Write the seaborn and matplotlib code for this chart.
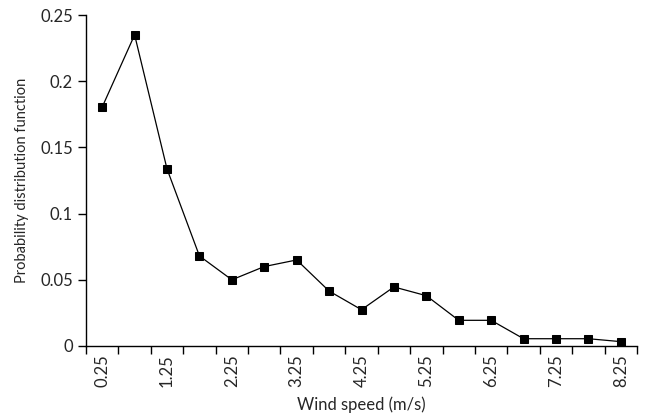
import numpy as np
import pandas as pd
import matplotlib
matplotlib.use("Agg")
import matplotlib.pyplot as plt
import seaborn as sns

wind_speed = [0.25, 0.75, 1.25, 1.75, 2.25, 2.75, 3.25, 3.75, 4.25,
              4.75, 5.25, 5.75, 6.25, 6.75, 7.25, 7.75, 8.25]
pdf_values = [0.1805, 0.235, 0.1337, 0.068, 0.050, 0.060, 0.065, 0.0415, 0.0274,
              0.0446, 0.038, 0.0194, 0.0194, 0.0055, 0.0055, 0.0055, 0.0033]
x_tick_labels = ["0.25", "1.25", "2.25", "3.25", "4.25", "5.25", "6.25", "7.25", "8.25"]
y_tick_values = [0, 0.05, 0.1, 0.15, 0.2, 0.25]
y_tick_labels = ["0", "0.05", "0.1", "0.15", "0.2", "0.25"]

df = pd.DataFrame({"speed": wind_speed, "pdf": pdf_values})

sns.set_style("ticks")
plt.rcParams['font.family'] = ['Lato', 'DejaVu Sans']

fig = plt.figure(figsize=(6.46, 4.16), dpi=100)
ax = fig.add_axes([86/646, 1 - 346/416, (637 - 86)/646, (346 - 15)/416])

sns.lineplot(data=df, x="speed", y="pdf", ax=ax, color="black", linewidth=0.9,
             marker="s", markersize=6, markeredgecolor="black", markerfacecolor="black")

ax.set_xlim(0, 8.5)
ax.set_ylim(0, 0.25)

# boundary ticks (major), labels at centers (minor)
ax.set_xticks(np.arange(0, 8.51, 0.5))
ax.set_xticklabels([])
ax.set_xticks([float(s) for s in x_tick_labels], minor=True)
ax.set_xticklabels(x_tick_labels, minor=True, rotation=90, fontsize=12)
ax.tick_params(axis="x", which="major", direction="out", length=6, width=1, color="black")
ax.tick_params(axis="x", which="minor", length=0, pad=6)

ax.set_yticks(y_tick_values)
ax.set_yticklabels(y_tick_labels, fontsize=12)
ax.tick_params(axis="y", direction="out", length=6, width=1, color="black")

for s in ["top", "right"]:
    ax.spines[s].set_visible(False)
for s in ["left", "bottom"]:
    ax.spines[s].set_color("black")
    ax.spines[s].set_linewidth(1)

ax.set_xlabel("Wind speed (m/s)", fontsize=12, labelpad=7)
ax.set_ylabel("Probability distribution function", fontsize=10.5, labelpad=8)

fig.savefig("out.png", dpi=100)
